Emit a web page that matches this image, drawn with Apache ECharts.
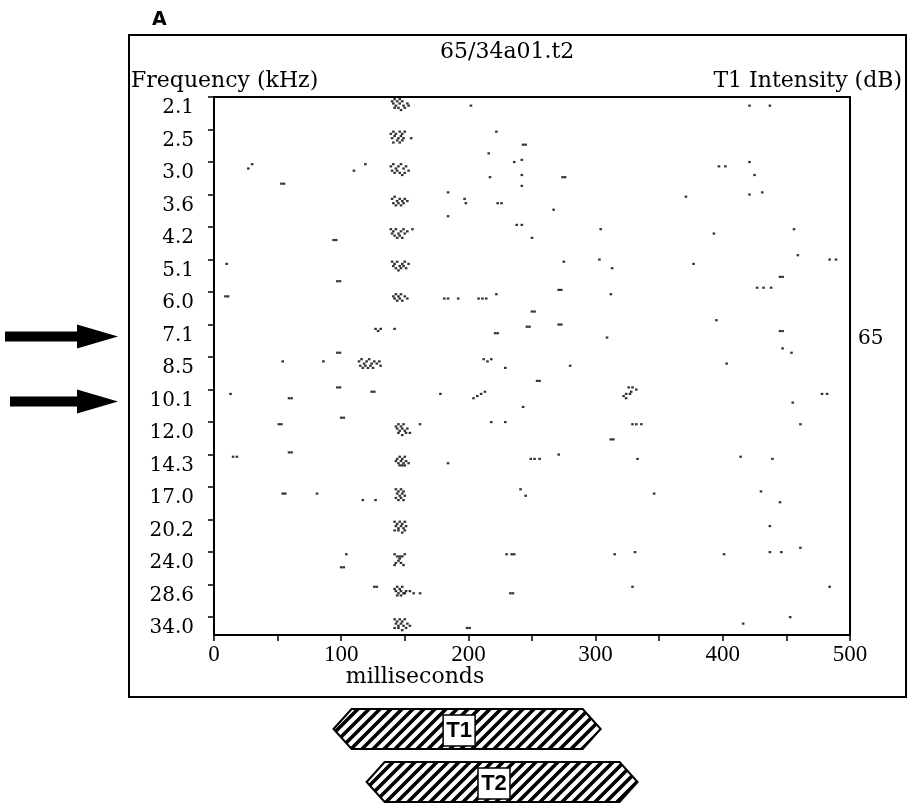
<!DOCTYPE html>
<html><head><meta charset="utf-8">
<script src="https://cdn.jsdelivr.net/npm/echarts@6/dist/echarts.min.js"></script>
<style>html,body{margin:0;padding:0;background:#fff;}#c{width:911px;height:807px;}</style>
</head><body><div id="c"></div>
<script>
// Frequency rows (top to bottom) and x ticks
const freqLabels = ['2.1','2.5','3.0','3.6','4.2','5.1','6.0','7.1','8.5','10.1','12.0','14.3','17.0','20.2','24.0','28.6','34.0'];
const xTickValues = [0,100,200,300,400,500];
// Spikes per frequency row: [time (ms), trial slot within row (0-14)]
const s2_1 = [[140,1],[142,0],[144,1],[146,0],[148,1],[141,2],[143,3],[146,2],[149,3],[142,4],[145,4],[147,5],[150,4],[152,2],[153,3],[202,3],[421,3],[437,3]];
const s2_5 = [[139,1],[141,0],[143,1],[146,0],[148,1],[150,0],[140,3],[142,2],[145,3],[147,2],[149,3],[141,5],[144,4],[146,5],[148,4],[155,3],[222,0],[216,10],[236,14],[242,13],[243,6],[245,6],[421,14]];
const s3_0 = [[27,2],[30,0],[53,9],[55,9],[110,3],[119,0],[139,1],[141,0],[143,2],[145,1],[147,0],[149,2],[151,1],[140,3],[142,4],[144,3],[146,4],[148,5],[150,4],[153,3],[184,13],[217,6],[242,5],[242,10],[274,6],[276,6],[397,1],[402,1],[425,5],[421,14],[431,13]];
const s3_6 = [[140,1],[142,0],[144,2],[146,1],[148,2],[150,1],[141,3],[143,4],[145,3],[147,4],[149,3],[152,2],[184,9],[197,1],[198,3],[223,3],[226,3],[238,13],[242,13],[267,6],[371,0]];
const s4_2 = [[94,5],[96,5],[139,0],[141,1],[143,0],[145,2],[147,1],[149,0],[140,2],[142,3],[144,4],[146,3],[148,4],[150,2],[152,1],[156,0],[250,4],[303,14],[304,0],[393,2],[456,0],[459,12],[484,14],[489,14]];
const s5_1 = [[10,1],[97,9],[99,9],[140,0],[142,1],[144,0],[146,2],[148,1],[141,2],[143,3],[145,4],[147,3],[149,2],[151,3],[150,0],[153,1],[271,13],[273,13],[275,0],[313,3],[377,1],[427,12],[432,12],[438,12],[445,7],[447,7]];
const s6_0 = [[9,1],[11,1],[141,1],[143,0],[145,1],[147,0],[142,2],[144,3],[146,2],[148,3],[150,1],[152,2],[181,2],[184,2],[192,2],[208,2],[211,2],[214,2],[222,0],[250,8],[252,8],[271,14],[273,14],[312,0],[395,12]];
const s7_1 = [[97,12],[99,12],[127,1],[129,2],[131,1],[142,1],[221,3],[223,3],[246,0],[248,0],[309,5],[445,2],[447,2],[447,10],[454,12]];
const s8_5 = [[54,1],[86,1],[97,13],[99,13],[114,1],[116,0],[118,2],[120,1],[122,0],[124,2],[126,1],[115,3],[117,4],[119,3],[121,4],[123,3],[125,4],[128,2],[130,1],[131,3],[212,0],[215,1],[218,0],[229,4],[254,10],[256,10],[280,3],[326,13],[329,13],[332,14],[403,2]];
const s10_1 = [[13,1],[59,3],[61,3],[100,12],[102,12],[124,0],[126,0],[178,1],[204,3],[207,2],[210,1],[213,0],[218,14],[229,14],[243,7],[322,2],[324,1],[324,3],[327,1],[328,0],[455,5],[478,1],[482,1]];
const s12_0 = [[51,0],[53,0],[59,13],[61,13],[143,1],[145,0],[147,1],[149,0],[144,2],[146,3],[148,2],[150,3],[152,2],[145,4],[148,5],[151,4],[154,4],[162,0],[271,14],[312,7],[314,7],[329,0],[332,0],[336,0],[461,0]];
const s14_3 = [[15,0],[18,0],[144,1],[146,0],[148,1],[150,0],[143,2],[145,3],[147,2],[149,3],[151,2],[146,4],[148,4],[150,4],[153,3],[184,3],[249,1],[252,1],[256,1],[333,1],[414,0],[439,1]];
const s17_0 = [[54,2],[56,2],[81,2],[117,5],[127,5],[143,0],[145,1],[147,0],[149,1],[144,2],[146,3],[148,2],[150,3],[143,4],[145,5],[147,4],[149,5],[241,0],[245,3],[346,2],[430,1],[445,6]];
const s20_2 = [[142,0],[144,1],[146,0],[148,1],[150,0],[143,2],[145,3],[147,2],[149,3],[151,2],[142,4],[145,4],[148,5],[150,4],[331,14],[437,2],[437,14],[446,14],[461,12]];
const s24_0 = [[100,6],[102,6],[104,0],[142,0],[144,1],[146,2],[148,1],[150,0],[145,3],[143,4],[147,4],[142,5],[149,5],[146,1],[230,0],[234,0],[236,0],[315,0],[401,0]];
const s28_6 = [[126,0],[128,0],[142,1],[144,0],[146,1],[148,0],[143,2],[145,3],[147,2],[149,3],[151,2],[144,4],[147,4],[150,3],[154,2],[157,3],[162,3],[233,3],[235,3],[329,0],[453,14],[484,0]];
const s34_0 = [[142,0],[144,1],[146,0],[148,1],[150,0],[143,2],[145,3],[147,2],[149,3],[152,2],[142,4],[145,4],[148,5],[151,4],[154,3],[199,4],[201,4],[416,2]];
const spikeRows = [s2_1,s2_5,s3_0,s3_6,s4_2,s5_1,s6_0,s7_1,s8_5,s10_1,s12_0,s14_3,s17_0,s20_2,s24_0,s28_6,s34_0];
const trialSlots = 15;
// Annotations
const intensityRow = 7;
const intensityLabel = '65';
const arrowRows = [7, 9];
const stimNames = ['T1','T2'];
const stimStart = [94, 120];
const stimEnd = [304, 333];

const points = [];
spikeRows.forEach((row, i) => row.forEach(([t, k]) => points.push([t, i + (k + 1) / trialSlots])));

const serif = 'DejaVu Serif';
const chart = echarts.init(document.getElementById('c'));
chart.setOption({
  animation: false,
  backgroundColor: '#fff',
  grid: {left: 214, right: 61, top: 97, bottom: 172, show: true, borderColor: '#000', borderWidth: 2},
  xAxis: {
    type: 'value', min: xTickValues[0], max: xTickValues[xTickValues.length - 1], interval: 100,
    axisLine: {onZero: false, lineStyle: {color: '#000', width: 2}},
    axisTick: {length: 6, lineStyle: {color: '#000', width: 1.5}},
    minorTick: {show: true, splitNumber: 2, length: 6, lineStyle: {color: '#000', width: 1.5}},
    axisLabel: {color: '#000', fontFamily: 'Liberation Serif', fontSize: 23, margin: 8},
    splitLine: {show: false}
  },
  yAxis: {
    type: 'value', inverse: true, min: 0, max: 16.55, interval: 1,
    axisLine: {onZero: false, lineStyle: {color: '#000', width: 2}},
    axisTick: {length: 6, lineStyle: {color: '#000', width: 1.5}},
    axisLabel: {
      color: '#000', fontFamily: serif, fontSize: 20, margin: 20, verticalAlign: 'top', lineHeight: 22,
      showMaxLabel: false,
      formatter: v => (Number.isInteger(v) && v < freqLabels.length) ? freqLabels[v] : ''
    },
    splitLine: {show: false}
  },
  series: [{
    type: 'scatter', data: points, symbol: 'rect', symbolSize: [2.6, 2.2],
    itemStyle: {color: '#000'}, silent: true, clip: true
  }]
});

function hatchCanvas() {
  const s = 11;
  const c = document.createElement('canvas');
  c.width = s; c.height = s;
  const g = c.getContext('2d');
  g.fillStyle = '#fff'; g.fillRect(0, 0, s, s);
  g.strokeStyle = '#000'; g.lineWidth = 3.6;
  g.beginPath();
  g.moveTo(0, s); g.lineTo(s, 0);
  g.moveTo(-s / 2, s / 2); g.lineTo(s / 2, -s / 2);
  g.moveTo(s / 2, s * 1.5); g.lineTo(s * 1.5, s / 2);
  g.stroke();
  return c;
}
const hatch = hatchCanvas();
const px = (t, v) => chart.convertToPixel({gridIndex: 0}, [t, v]);

const text = (x, y, str, font, align, vAlign) => ({
  type: 'text', x, y, silent: true,
  style: {text: str, font, fill: '#000', align, verticalAlign: vAlign, textAlign: align, textVerticalAlign: vAlign}
});

const g = [];
g.push({type: 'rect', shape: {x: 129, y: 35, width: 777, height: 662}, style: {fill: 'none', stroke: '#000', lineWidth: 2}, silent: true});
g.push(text(152, 20, 'A', 'bold 19px "DejaVu Sans"', 'left', 'middle'));
g.push(text(440, 52, '65/34a01.t2', '22px "DejaVu Serif"', 'left', 'middle'));
g.push(text(131, 81, 'Frequency (kHz)', '22px "DejaVu Serif"', 'left', 'middle'));
g.push(text(902, 81, 'T1 Intensity (dB)', '22px "DejaVu Serif"', 'right', 'middle'));
g.push(text(415, 677, 'milliseconds', '22px "DejaVu Serif"', 'center', 'middle'));
g.push(text(858, px(0, intensityRow + 0.45)[1], intensityLabel, '20px "DejaVu Serif"', 'left', 'middle'));

arrowRows.forEach((r, j) => {
  const cy = px(0, r + 0.37)[1];
  const x0 = j === 0 ? 5 : 10, tip = 118, hb = 77;
  g.push({type: 'polygon', silent: true, shape: {points: [[x0, cy - 5], [hb, cy - 5], [hb, cy - 12], [tip, cy], [hb, cy + 12], [hb, cy + 5], [x0, cy + 5]]}, style: {fill: '#000'}});
});

const barTop = [709, 762];
const barH = 40, pt = 18;
stimNames.forEach((name, j) => {
  const xs = px(stimStart[j], 0)[0], xe = px(stimEnd[j], 0)[0];
  const yt = barTop[j], yb = yt + barH, ym = yt + barH / 2;
  g.push({type: 'polygon', silent: true,
    shape: {points: [[xs, ym], [xs + pt, yt], [xe - pt, yt], [xe, ym], [xe - pt, yb], [xs + pt, yb]]},
    style: {fill: {image: hatch, repeat: 'repeat'}, stroke: '#000', lineWidth: 2}});
  const cx = xs + 0.47 * (xe - xs);
  g.push({type: 'rect', silent: true, shape: {x: cx - 16, y: yt + 6, width: 32, height: 31}, style: {fill: '#fff', stroke: '#000', lineWidth: 1.5}});
  g.push(text(cx, yt + 22, name, 'bold 22px "Liberation Sans"', 'center', 'middle'));
});

chart.setOption({graphic: {elements: g}});
</script>
</body></html>
